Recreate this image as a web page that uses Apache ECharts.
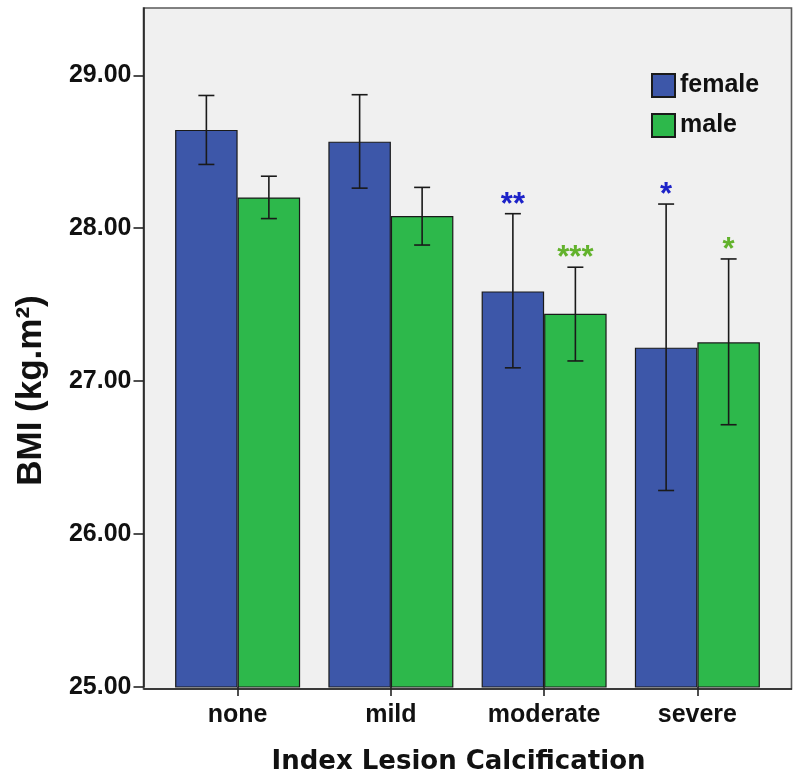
<!DOCTYPE html>
<html>
<head>
<meta charset="utf-8">
<script src="https://cdn.jsdelivr.net/npm/echarts@6/dist/echarts.min.js"></script>
<style>
html,body{margin:0;padding:0;background:#fff;}
#chart{width:800px;height:780px;}
</style>
</head>
<body>
<div id="chart"></div>
<script>
// ---- data ----
const categories = ["none", "mild", "moderate", "severe"];
const seriesNames = ["female", "male"];
const femaleMean = [28.643, 28.566, 27.587, 27.219];
const femaleLow  = [28.417, 28.262, 27.087, 26.285];
const femaleHigh = [28.868, 28.873, 28.095, 28.158];
const maleMean   = [28.201, 28.080, 27.441, 27.254];
const maleLow    = [28.063, 27.890, 27.132, 26.715];
const maleHigh   = [28.340, 28.267, 27.745, 27.799];
const femaleSig  = ["", "", "**", "*"];
const maleSig    = ["", "", "***", "*"];
const yTicks = [25, 26, 27, 28, 29];
const yMin = 25, yMax = 29.44;
const xTitle = "Index Lesion Calcification";
const yTitle = "BMI (kg.m\u00B2)";

// ---- style ----
const BLUE = "#3d57a9", GREEN = "#2db84b";
const STAR_BLUE = "#1c22c8", STAR_GREEN = "#62b22c";
const BAR_W = 62.5;
const FONT = "Liberation Sans, Arial, sans-serif";

function errRender(sign, sig, starColor) {
  return function (params, api) {
    const c = api.value(0), lo = api.value(1), hi = api.value(2);
    const pLo = api.coord([c, lo]);
    const pHi = api.coord([c, hi]);
    const x = pLo[0] + sign * BAR_W / 2;
    const cap = 8;
    const st = { stroke: "#1a1a1a", lineWidth: 1.6 };
    const children = [
      { type: "line", shape: { x1: x, y1: pLo[1], x2: x, y2: pHi[1] }, style: st },
      { type: "line", shape: { x1: x - cap, y1: pHi[1], x2: x + cap, y2: pHi[1] }, style: st },
      { type: "line", shape: { x1: x - cap, y1: pLo[1], x2: x + cap, y2: pLo[1] }, style: st }
    ];
    const s = sig[params.dataIndex];
    if (s) {
      children.push({
        type: "text",
        style: {
          text: s, x: x, y: pHi[1] + 7,
          align: "center", verticalAlign: "bottom",
          fill: starColor, font: "bold 31px " + FONT
        }
      });
    }
    return { type: "group", children: children };
  };
}

const chart = echarts.init(document.getElementById("chart"), null, { renderer: "canvas" });
const option = {
  animation: false,
  backgroundColor: "#ffffff",
  graphic: [
    { type: "rect", z: 0, silent: true,
      shape: { x: 143.5, y: 8, width: 648, height: 681 },
      style: { fill: "#f0f0f0", stroke: "#5a5a5a", lineWidth: 1.6 } },
    { type: "line", z: 10, silent: true,
      shape: { x1: 143.5, y1: 689, x2: 792, y2: 689 },
      style: { stroke: "#222", lineWidth: 1.6 } }
  ],
  grid: { left: 161, right: 26, top: 8, bottom: 91, containLabel: false },
  legend: {
    data: seriesNames,
    orient: "vertical",
    left: 651, top: 73,
    padding: 0,
    itemWidth: 23, itemHeight: 23, itemGap: 15,
    icon: "rect",
    textStyle: { fontSize: 25, fontWeight: "bold", color: "#111", fontFamily: FONT }
  },
  xAxis: {
    type: "category",
    data: categories,
    axisLine: { show: false },
    axisTick: { show: true, alignWithLabel: true, length: 9, lineStyle: { color: "#222", width: 1.6 } },
    axisLabel: { margin: 16, fontSize: 25, fontWeight: "bold", color: "#111", fontFamily: FONT },
    name: xTitle,
    nameLocation: "middle",
    nameGap: 62,
    nameTextStyle: { fontSize: 26, fontWeight: "bold", color: "#111", fontFamily: "DejaVu Sans", padding: [0, 18, 0, 0] },
    splitLine: { show: false }
  },
  yAxis: {
    type: "value",
    min: yMin, max: yMax,
    offset: 17.5,
    axisLine: { show: true, lineStyle: { color: "#222", width: 1.6 } },
    axisTick: { show: true, length: 10, customValues: yTicks, lineStyle: { color: "#222", width: 1.6 } },
    axisLabel: { margin: 12, fontSize: 25, fontWeight: "bold", color: "#111", fontFamily: FONT,
      customValues: yTicks, formatter: v => v.toFixed(2) },
    splitLine: { show: false },
    name: yTitle,
    nameLocation: "middle",
    nameGap: 95,
    nameTextStyle: { fontSize: 35, fontWeight: "bold", color: "#111", fontFamily: FONT, padding: [0, 86, 0, 0] }
  },
  series: [
    { name: "female", type: "bar", data: femaleMean, barWidth: BAR_W, barGap: "0%", z: 2,
      itemStyle: { color: BLUE, borderColor: "#1a1a1a", borderWidth: 1.2 } },
    { name: "male", type: "bar", data: maleMean, barWidth: BAR_W, barGap: "0%", z: 2,
      itemStyle: { color: GREEN, borderColor: "#1a1a1a", borderWidth: 1.2 } },
    { name: "femaleErr", type: "custom", z: 5,
      data: categories.map((c, i) => [i, femaleLow[i], femaleHigh[i]]),
      encode: { x: 0, y: [1, 2] },
      renderItem: errRender(-1, femaleSig, STAR_BLUE) },
    { name: "maleErr", type: "custom", z: 5,
      data: categories.map((c, i) => [i, maleLow[i], maleHigh[i]]),
      encode: { x: 0, y: [1, 2] },
      renderItem: errRender(1, maleSig, STAR_GREEN) }
  ]
};
chart.setOption(option);
</script>
</body>
</html>
